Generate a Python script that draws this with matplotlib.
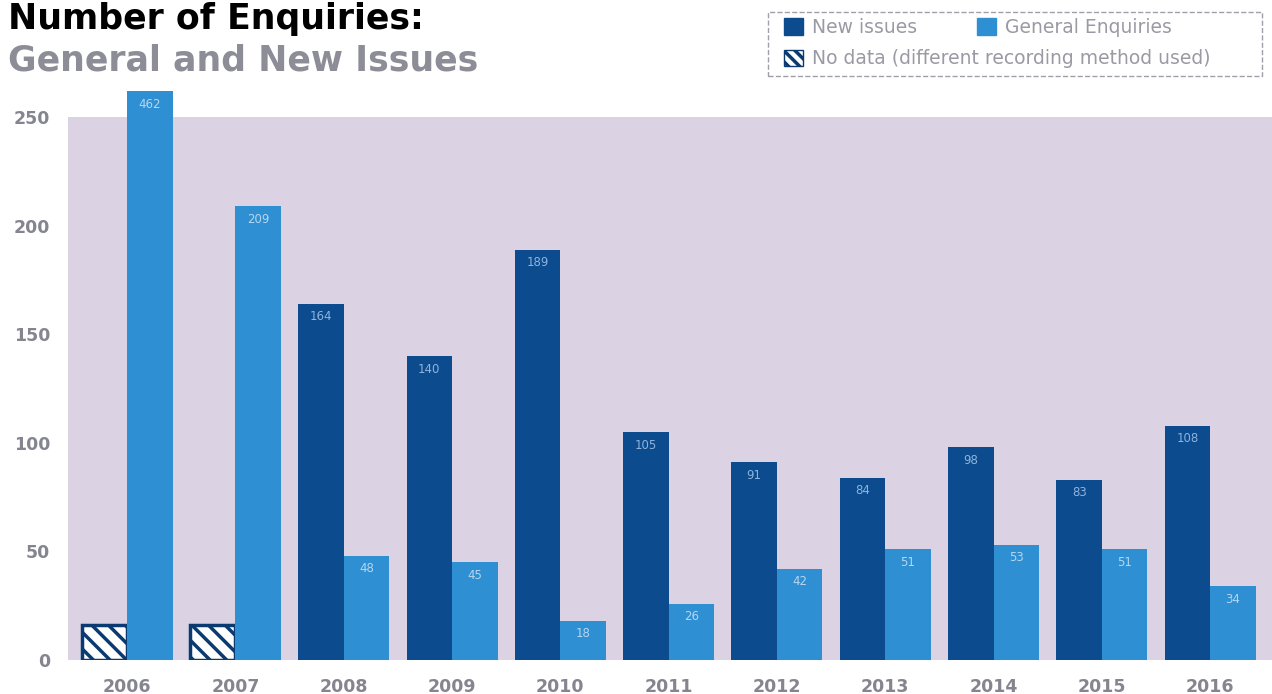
import matplotlib.pyplot as plt
import matplotlib.patches as mpatches
import numpy as np

plt.rcParams['font.family'] = ['DejaVu Sans']
plt.rcParams['hatch.linewidth'] = 2.5

years = ['2006', '2007', '2008', '2009', '2010', '2011', '2012', '2013', '2014', '2015', '2016']
new_issues = [None, None, 164, 140, 189, 105, 91, 84, 98, 83, 108]
general = [462, 209, 48, 45, 18, 26, 42, 51, 53, 51, 34]

dark = '#0b4b8e'
light = '#2e8fd2'
bg = '#dbd2e4'
grey = '#85858f'
cap = 262  # tallest bar is cut off just above the axes
nodata_h = 16

fig = plt.figure(figsize=(12.72, 6.94), dpi=100)
ax = fig.add_axes([0.0535, 0.049, 0.9465, 0.782])
ax.set_facecolor(bg)

x = np.arange(len(years))
w = 0.42

for i in x:
    if new_issues[i] is None:
        ax.bar(i - w / 2, nodata_h, w * 0.98, color='white', edgecolor='#0a3a70',
               linewidth=2.5, hatch='\\\\', zorder=3)
    else:
        ax.bar(i - w / 2, new_issues[i], w, color=dark, zorder=3)
        ax.text(i - w / 2, new_issues[i] - 3, str(new_issues[i]), ha='center', va='top',
                fontsize=8.5, color='#8fb4dc', zorder=4)
    h = min(general[i], cap)
    ax.bar(i + w / 2, h, w, color=light, zorder=3, clip_on=False)
    ax.text(i + w / 2, h - 3, str(general[i]), ha='center', va='top',
            fontsize=8.5, color='#b6d6f0', zorder=4, clip_on=False)

ax.set_xlim(-0.545, 10.57)
ax.set_ylim(0, 250)
ax.set_yticks([0, 50, 100, 150, 200, 250])
ax.set_xticks(x)
ax.set_xticklabels(years)
ax.tick_params(length=0, labelsize=12.5, labelcolor=grey, pad=13)
ax.tick_params(axis='y', pad=13)
for lb in ax.get_xticklabels() + ax.get_yticklabels():
    lb.set_fontweight('bold')
for s in ax.spines.values():
    s.set_visible(False)

fig.text(0.006, 0.958, 'Number of Enquiries:', fontsize=25, fontweight='bold',
         color='black', va='baseline')
fig.text(0.006, 0.898, 'General and New Issues', fontsize=25, fontweight='bold',
         color='#8d8d98', va='baseline')

handles = [mpatches.Patch(color=dark, label='New issues'),
           mpatches.Patch(color=light, label='General Enquiries'),
           mpatches.Patch(facecolor='white', edgecolor='#0a3a70', hatch='\\\\\\',
                          label='No data (different recording method used)')]
fig.legend(handles=handles[:2], loc='upper left', bbox_to_anchor=(0.603, 0.998),
           ncol=2, frameon=False, fontsize=13.5, labelcolor='#9a9aa4',
           handlelength=1.0, handleheight=1.0, columnspacing=3.2,
           handletextpad=0.5)
fig.legend(handles=handles[2:], loc='upper left', bbox_to_anchor=(0.603, 0.953),
           frameon=False, fontsize=13.5, labelcolor='#9a9aa4',
           handlelength=1.0, handleheight=1.0, handletextpad=0.5)
fig.add_artist(mpatches.Rectangle((0.604, 0.89), 0.388, 0.093, transform=fig.transFigure,
                                  fill=False, edgecolor='#a0a0a8', linestyle='--',
                                  linewidth=1))

fig.savefig('out.png', dpi=100)
